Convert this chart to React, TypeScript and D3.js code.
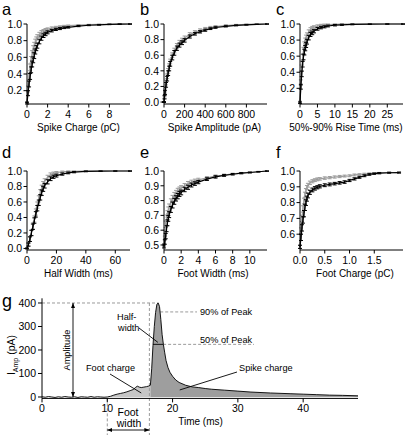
import React from "react";
import * as d3 from "d3";

// ---------- Panel a: Spike Charge (pC)
const aX = [0, 0.1, 0.2, 0.3, 0.4, 0.5, 0.6, 0.7, 0.8, 0.9, 1.0, 1.2, 1.4, 1.6, 1.8, 2.0, 2.4, 2.8, 3.2, 3.6, 4.0, 5, 6, 7, 8, 9, 10];
const aBlack = [0.05, 0.17, 0.28, 0.37, 0.45, 0.52, 0.57, 0.62, 0.67, 0.71, 0.74, 0.79, 0.83, 0.86, 0.88, 0.9, 0.92, 0.935, 0.945, 0.955, 0.96, 0.975, 0.985, 0.99, 0.995, 0.998, 1.0];
const aGray = [0.06, 0.22, 0.37, 0.48, 0.57, 0.64, 0.7, 0.74, 0.78, 0.81, 0.84, 0.87, 0.895, 0.91, 0.925, 0.935, 0.95, 0.96, 0.968, 0.975, 0.98, 0.987, 0.992, 0.995, 0.997, 0.999, 1.0];
const aBlackErr = [0.01, 0.03, 0.035, 0.035, 0.035, 0.035, 0.035, 0.035, 0.03, 0.03, 0.03, 0.028, 0.025, 0.022, 0.02, 0.018, 0.015, 0.013, 0.012, 0.01, 0.009, 0.007, 0.005, 0.004, 0.003, 0.002, 0.001];
const aGrayErr = [0.01, 0.035, 0.04, 0.04, 0.04, 0.04, 0.04, 0.04, 0.038, 0.035, 0.032, 0.03, 0.026, 0.023, 0.02, 0.018, 0.015, 0.012, 0.01, 0.009, 0.008, 0.006, 0.004, 0.003, 0.002, 0.001, 0.001];
const aXTicks = [0, 2, 4, 6, 8];
const aYTicks = [0.2, 0.4, 0.6, 0.8, 1.0];

// ---------- Panel b: Spike Amplitude (pA)
const bX = [0, 5, 10, 20, 30, 40, 50, 60, 80, 100, 125, 150, 175, 200, 250, 300, 350, 400, 450, 500, 600, 700, 800, 900, 1000];
const bBlack = [0.0, 0.06, 0.12, 0.22, 0.3, 0.37, 0.43, 0.49, 0.57, 0.63, 0.69, 0.73, 0.76, 0.79, 0.84, 0.875, 0.9, 0.92, 0.94, 0.955, 0.97, 0.982, 0.99, 0.996, 1.0];
const bGray = [0.0, 0.07, 0.14, 0.25, 0.33, 0.4, 0.46, 0.52, 0.6, 0.66, 0.72, 0.76, 0.79, 0.82, 0.865, 0.895, 0.92, 0.94, 0.955, 0.967, 0.98, 0.988, 0.994, 0.998, 1.0];
const bBlackErr = [0.005, 0.02, 0.025, 0.03, 0.03, 0.03, 0.03, 0.03, 0.03, 0.03, 0.028, 0.026, 0.024, 0.022, 0.02, 0.017, 0.015, 0.013, 0.011, 0.01, 0.008, 0.006, 0.004, 0.002, 0.001];
const bGrayErr = [0.005, 0.02, 0.025, 0.03, 0.03, 0.03, 0.03, 0.03, 0.03, 0.03, 0.03, 0.03, 0.028, 0.026, 0.024, 0.02, 0.018, 0.016, 0.014, 0.012, 0.01, 0.007, 0.005, 0.003, 0.001];
const bXTicks = [0, 200, 400, 600, 800];
const bYTicks = [0.0, 0.2, 0.4, 0.6, 0.8, 1.0];

// ---------- Panel c: 50%-90% Rise Time (ms)
const cX = [0, 0.25, 0.5, 0.75, 1, 1.25, 1.5, 1.75, 2, 2.5, 3, 3.5, 4, 5, 6, 7, 8, 10, 12, 15, 20, 25, 29.5];
const cBlack = [0.02, 0.22, 0.38, 0.5, 0.59, 0.65, 0.7, 0.74, 0.78, 0.83, 0.87, 0.89, 0.91, 0.94, 0.955, 0.965, 0.975, 0.985, 0.99, 0.995, 0.998, 1.0, 1.0];
const cGray = [0.03, 0.27, 0.45, 0.58, 0.67, 0.74, 0.79, 0.83, 0.86, 0.9, 0.93, 0.95, 0.96, 0.975, 0.985, 0.99, 0.993, 0.996, 0.998, 0.999, 1.0, 1.0, 1.0];
const cBlackErr = [0.01, 0.03, 0.035, 0.035, 0.035, 0.035, 0.033, 0.032, 0.03, 0.028, 0.025, 0.023, 0.02, 0.017, 0.015, 0.013, 0.011, 0.009, 0.007, 0.005, 0.003, 0.001, 0.001];
const cGrayErr = [0.01, 0.035, 0.04, 0.04, 0.04, 0.038, 0.035, 0.032, 0.03, 0.027, 0.024, 0.02, 0.018, 0.014, 0.011, 0.009, 0.007, 0.005, 0.004, 0.003, 0.002, 0.001, 0.001];
const cXTicks = [0, 5, 10, 15, 20, 25];
const cYTicks = [0.2, 0.4, 0.6, 0.8, 1.0];

// ---------- Panel d: Half Width (ms)
const dX = [0, 1, 2, 3, 4, 5, 6, 7, 8, 9, 10, 11, 12, 14, 16, 18, 20, 24, 28, 32, 40, 50, 60, 70];
const dBlack = [0.0, 0.05, 0.12, 0.2, 0.28, 0.36, 0.44, 0.52, 0.59, 0.66, 0.72, 0.77, 0.81, 0.86, 0.9, 0.925, 0.94, 0.96, 0.975, 0.985, 0.995, 0.998, 1.0, 1.0];
const dGray = [0.0, 0.05, 0.12, 0.2, 0.29, 0.38, 0.47, 0.56, 0.64, 0.72, 0.78, 0.83, 0.87, 0.92, 0.955, 0.97, 0.98, 0.99, 0.995, 0.997, 0.999, 1.0, 1.0, 1.0];
const dBlackErr = [0.005, 0.02, 0.03, 0.035, 0.035, 0.035, 0.035, 0.035, 0.035, 0.035, 0.035, 0.033, 0.03, 0.027, 0.024, 0.02, 0.018, 0.014, 0.011, 0.008, 0.005, 0.003, 0.001, 0.001];
const dGrayErr = [0.005, 0.02, 0.03, 0.035, 0.04, 0.04, 0.04, 0.04, 0.04, 0.04, 0.037, 0.034, 0.03, 0.025, 0.02, 0.016, 0.013, 0.009, 0.006, 0.004, 0.002, 0.001, 0.001, 0.001];
const dXTicks = [0, 20, 40, 60];
const dYTicks = [0.0, 0.2, 0.4, 0.6, 0.8, 1.0];

// ---------- Panel e: Foot Width (ms)
const eX = [0, 0.1, 0.2, 0.3, 0.4, 0.5, 0.6, 0.8, 1.0, 1.2, 1.4, 1.6, 1.8, 2.0, 2.4, 2.8, 3.2, 3.6, 4.0, 5, 6, 7, 8, 9, 10, 11, 12];
const eBlack = [0.49, 0.52, 0.56, 0.61, 0.65, 0.68, 0.705, 0.74, 0.77, 0.795, 0.815, 0.83, 0.845, 0.855, 0.875, 0.89, 0.905, 0.915, 0.925, 0.945, 0.96, 0.97, 0.978, 0.985, 0.99, 0.995, 1.0];
const eGray = [0.5, 0.58, 0.64, 0.68, 0.71, 0.735, 0.755, 0.79, 0.815, 0.835, 0.85, 0.865, 0.875, 0.885, 0.9, 0.915, 0.925, 0.933, 0.94, 0.953, 0.965, 0.973, 0.98, 0.986, 0.99, 0.995, 1.0];
const eBlackErr = [0.01, 0.015, 0.018, 0.02, 0.02, 0.02, 0.02, 0.02, 0.02, 0.02, 0.018, 0.018, 0.017, 0.016, 0.015, 0.014, 0.013, 0.012, 0.011, 0.009, 0.008, 0.006, 0.005, 0.004, 0.003, 0.002, 0.001];
const eGrayErr = [0.01, 0.02, 0.022, 0.022, 0.022, 0.022, 0.022, 0.022, 0.02, 0.02, 0.019, 0.018, 0.017, 0.016, 0.015, 0.014, 0.013, 0.012, 0.011, 0.009, 0.008, 0.006, 0.005, 0.004, 0.003, 0.002, 0.001];
const eXTicks = [0, 2, 4, 6, 8, 10];
const eYTicks = [0.5, 0.6, 0.7, 0.8, 0.9, 1.0];

// ---------- Panel f: Foot Charge (pC)
const fX = [0, 0.02, 0.04, 0.06, 0.08, 0.1, 0.12, 0.14, 0.16, 0.2, 0.25, 0.3, 0.35, 0.4, 0.5, 0.6, 0.7, 0.8, 0.9, 1.0, 1.1, 1.2, 1.3, 1.4, 1.5, 1.6, 1.8, 2.0];
const fBlack = [0.52, 0.58, 0.64, 0.69, 0.73, 0.77, 0.8, 0.825, 0.845, 0.865, 0.88, 0.89, 0.897, 0.903, 0.91, 0.915, 0.92, 0.925, 0.93, 0.94, 0.95, 0.96, 0.97, 0.978, 0.983, 0.986, 0.989, 0.99];
const fGray = [0.52, 0.62, 0.7, 0.76, 0.81, 0.85, 0.875, 0.895, 0.91, 0.925, 0.935, 0.942, 0.947, 0.95, 0.955, 0.958, 0.962, 0.965, 0.968, 0.97, 0.975, 0.978, 0.981, 0.984, 0.986, 0.988, 0.99, 0.99];
const fBlackErr = [0.01, 0.02, 0.02, 0.02, 0.02, 0.02, 0.018, 0.016, 0.015, 0.013, 0.012, 0.011, 0.01, 0.01, 0.009, 0.009, 0.008, 0.008, 0.008, 0.007, 0.007, 0.006, 0.006, 0.005, 0.004, 0.004, 0.003, 0.003];
const fGrayErr = [0.01, 0.02, 0.02, 0.02, 0.018, 0.016, 0.014, 0.013, 0.012, 0.011, 0.01, 0.009, 0.009, 0.008, 0.008, 0.007, 0.007, 0.007, 0.006, 0.006, 0.006, 0.005, 0.005, 0.004, 0.004, 0.003, 0.003, 0.003];
const fXTicks = [0, 0.5, 1.0, 1.5];
const fYTicks = [0.6, 0.7, 0.8, 0.9, 1.0];

// ---------- Panel g: example amperometric spike
const traceT = [0, 0.5, 1, 1.5, 2, 2.5, 3, 3.5, 4, 4.5, 5, 5.5, 6, 6.5, 7, 7.5, 8, 8.5, 9, 9.5, 10, 10.5, 11, 11.5, 12, 12.5, 13, 13.5, 14, 14.3, 14.6, 14.9, 15.2, 15.6, 16, 16.3, 16.6, 16.8, 17.0, 17.2, 17.4, 17.6, 17.8, 18.0, 18.2, 18.4, 18.6, 18.8, 19.0, 19.3, 19.6, 20.0, 20.5, 21, 22, 23, 24, 25, 26, 28, 30, 32, 35, 38, 40, 42, 44, 46, 48.4];
const traceI = [1, -1, 2, 0, -2, 1, -1, 2, 0, -1, 1, -2, 1, 0, -1, 2, -1, 1, 0, -1, 0, 3, 8, 12, 15, 18, 22, 27, 32, 40, 46, 42, 40, 42, 44, 46, 50, 120, 220, 300, 360, 395, 400, 385, 330, 265, 222, 188, 155, 125, 105, 88, 72, 62, 50, 43, 40, 36, 33, 29, 25, 21, 17, 14, 12, 10, 8, 7, 5];
const gXTicks = [0, 10, 20, 30, 40];
const gYTicks = [0, 100, 200, 300, 400];
const footStart = 10;
const footEnd = 16.6;
const peakValue = 400;
const peakTime = 17.8;
const peakLevels = [362, 224];
const peakLabels = ["90% of Peak", "50% of Peak"];
const halfWidthSpan = [17.0, 18.55];
const amplitudeTime = 4.75;

const FONT = "Liberation Sans, Arial, Helvetica, sans-serif";

type PanelProps = {
  letter: string;
  letterX: number;
  letterY: number;
  left: number;
  right: number;
  top: number;
  bottom: number;
  xDomain: [number, number];
  yDomain: [number, number];
  xTicks: number[];
  yTicks: number[];
  xFmt: (v: number) => string;
  title: string;
  titleX: number;
  xs: number[];
  black: number[];
  gray: number[];
  blackErr: number[];
  grayErr: number[];
};

function ErrSeries({ xs, ys, errs, x, y, color }: any) {
  const line = d3
    .line<number>()
    .x((_, i) => x(xs[i]))
    .y((d) => y(d));
  const bars = xs
    .map((xv: number, i: number) => {
      const px = x(xv);
      const y1 = y(Math.min(ys[i] + errs[i], 1.0));
      const y2 = y(ys[i] - errs[i]);
      return `M${px - 2},${y1}H${px + 2}M${px},${y1}V${y2}M${px - 2},${y2}H${px + 2}`;
    })
    .join("");
  return (
    <g>
      <path d={bars} stroke={color} strokeWidth={1} fill="none" />
      <path d={line(ys) || ""} stroke={color} strokeWidth={1.2} fill="none" />
    </g>
  );
}

function CdfPanel(p: PanelProps) {
  const x = d3.scaleLinear().domain(p.xDomain).range([p.left, p.right]);
  const y = d3.scaleLinear().domain(p.yDomain).range([p.bottom, p.top]);
  const yFmt = d3.format(".1f");
  return (
    <g fontFamily={FONT}>
      <text x={p.letterX} y={p.letterY} fontSize={16.5}>
        {p.letter}
      </text>
      <ErrSeries xs={p.xs} ys={p.gray} errs={p.grayErr} x={x} y={y} color="#9c9c9c" />
      <ErrSeries xs={p.xs} ys={p.black} errs={p.blackErr} x={x} y={y} color="#000" />
      <line x1={p.left} x2={p.left} y1={p.top} y2={p.bottom} stroke="#000" strokeWidth={1} />
      <line x1={p.left} x2={p.right} y1={p.bottom} y2={p.bottom} stroke="#000" strokeWidth={1} />
      {p.yTicks.map((t) => (
        <g key={"y" + t}>
          <line x1={p.left - 3.5} x2={p.left} y1={y(t)} y2={y(t)} stroke="#000" />
          <text x={p.left - 5} y={y(t)} dy="0.36em" textAnchor="end" fontSize={10.5}>
            {yFmt(t)}
          </text>
        </g>
      ))}
      {p.xTicks.map((t) => (
        <g key={"x" + t}>
          <line x1={x(t)} x2={x(t)} y1={p.bottom} y2={p.bottom + 3.5} stroke="#000" />
          <text x={x(t)} y={p.bottom + 14} textAnchor="middle" fontSize={10.5}>
            {p.xFmt(t)}
          </text>
        </g>
      ))}
      <text x={p.titleX} y={p.bottom + 27} textAnchor="middle" fontSize={10}>
        {p.title}
      </text>
    </g>
  );
}

function TracePanel() {
  const left = 42;
  const right = 358;
  const top = 298.3;
  const bottom = 398.4;
  const x = d3.scaleLinear().domain([0, 48.4]).range([left, right]);
  const y = d3.scaleLinear().domain([-6, 420]).range([bottom, top]);
  const pts = traceT.map((t, i) => [t, traceI[i]] as [number, number]);
  const footPts = pts.filter((d) => d[0] >= footStart && d[0] <= footEnd);
  const spikePts = pts.filter((d) => d[0] >= footEnd);
  const area = d3
    .area<[number, number]>()
    .x((d) => x(d[0]))
    .y0(y(0))
    .y1((d) => y(Math.max(d[1], 0)));
  const line = d3
    .line<[number, number]>()
    .x((d) => x(d[0]))
    .y((d) => y(d[1]));
  const dash = "3,2";
  const dashColor = "#9a9a9a";
  const ann = 9.2;
  return (
    <g fontFamily={FONT}>
      <defs>
        <marker id="ah" viewBox="0 0 10 10" refX="10" refY="5" markerWidth="5" markerHeight="5" orient="auto-start-reverse" markerUnits="userSpaceOnUse">
          <path d="M0,1 L10,5 L0,9 Z" fill="#000" />
        </marker>
      </defs>
      <text x={2} y={307} fontSize={18}>
        g
      </text>
      <path d={area(footPts) || ""} fill="#c6c6c6" stroke="none" />
      <path d={area(spikePts) || ""} fill="#9e9e9e" stroke="none" />
      <line x1={left} x2={x(peakTime)} y1={y(peakValue)} y2={y(peakValue)} stroke={dashColor} strokeDasharray={dash} />
      <line x1={x(peakTime) + 2} x2={197} y1={y(peakLevels[0])} y2={y(peakLevels[0])} stroke={dashColor} strokeDasharray={dash} />
      <line x1={x(halfWidthSpan[1])} x2={254} y1={y(peakLevels[1])} y2={y(peakLevels[1])} stroke={dashColor} strokeDasharray={dash} />
      <line x1={x(footStart)} x2={x(footStart)} y1={bottom} y2={435} stroke={dashColor} strokeDasharray={dash} />
      <line x1={x(footEnd) - 1} x2={x(footEnd) - 1} y1={y(peakValue)} y2={435} stroke={dashColor} strokeDasharray={dash} />
      <path d={line(pts) || ""} stroke="#000" strokeWidth={0.9} fill="none" />
      <line x1={left} x2={left} y1={top} y2={bottom} stroke="#000" />
      <line x1={left} x2={right} y1={bottom} y2={bottom} stroke="#000" />
      {gYTicks.map((t) => (
        <g key={"gy" + t}>
          <line x1={left - 4} x2={left} y1={y(t)} y2={y(t)} stroke="#000" />
          <text x={left - 6} y={y(t)} dy="0.36em" textAnchor="end" fontSize={10.5}>
            {t}
          </text>
        </g>
      ))}
      {gXTicks.map((t) => (
        <g key={"gx" + t}>
          <line x1={x(t)} x2={x(t)} y1={bottom} y2={bottom + 4} stroke="#000" />
          <text x={x(t)} y={bottom + 14} textAnchor="middle" fontSize={10.5}>
            {t}
          </text>
        </g>
      ))}
      <text x={200.5} y={425} textAnchor="middle" fontSize={10}>
        Time (ms)
      </text>
      <text transform={`translate(15,355) rotate(-90)`} textAnchor="middle" fontSize={10.5}>
        I<tspan fontSize={7} dy={2.5}>Amp</tspan>
        <tspan dy={-2.5}> (pA)</tspan>
      </text>
      <line x1={x(amplitudeTime)} x2={x(amplitudeTime)} y1={y(peakValue)} y2={y(0)} stroke="#000" strokeWidth={0.9} markerStart="url(#ah)" markerEnd="url(#ah)" />
      <text transform={`translate(69.5,350) rotate(-90)`} textAnchor="middle" fontSize={ann}>
        Amplitude
      </text>
      <line x1={x(halfWidthSpan[0])} x2={x(halfWidthSpan[1])} y1={y(peakLevels[1])} y2={y(peakLevels[1])} stroke="#000" strokeWidth={0.9} />
      <line x1={139} y1={328} x2={x(17.75)} y2={y(peakLevels[1]) - 2} stroke="#000" strokeWidth={0.9} />
      <text x={117} y={320} fontSize={ann}>
        Half-
      </text>
      <text x={118} y={331} fontSize={ann}>
        width
      </text>
      {peakLabels.map((l, i) => (
        <text key={l} x={200} y={i === 0 ? 315 : 342.5} fontSize={ann}>
          {l}
        </text>
      ))}
      <text x={86} y={371} fontSize={ann}>
        Foot charge
      </text>
      <line x1={110} y1={374} x2={x(15.2)} y2={y(17)} stroke="#000" strokeWidth={0.9} />
      <text x={239} y={371} fontSize={ann}>
        Spike charge
      </text>
      <line x1={237} y1={372} x2={x(21.1)} y2={y(30)} stroke="#000" strokeWidth={0.9} />
      <text x={128} y={416} textAnchor="middle" fontSize={10.5}>
        Foot
      </text>
      <text x={129} y={426.5} textAnchor="middle" fontSize={10.5}>
        width
      </text>
      <line x1={x(footStart)} x2={x(footEnd) - 1} y1={430} y2={430} stroke="#000" strokeWidth={0.9} markerStart="url(#ah)" markerEnd="url(#ah)" />
    </g>
  );
}

const f1 = d3.format(".1f");
const f0 = (v: number) => String(v);

export default function App() {
  const r1 = { top: 24, bottom: 104 };
  const r2 = { top: 171, bottom: 250 };
  const c1 = { left: 27, right: 130 };
  const c2 = { left: 164, right: 267 };
  const c3 = { left: 300, right: 403 };
  return (
    <svg width={410} height={435} style={{ position: "absolute", left: 0, top: 0, background: "#fff" }}>
      <rect width={410} height={435} fill="#fff" />
      <CdfPanel letter="a" letterX={2} letterY={15} {...r1} {...c1} xDomain={[0, 10]} yDomain={[0.04, 1]} xTicks={aXTicks} yTicks={aYTicks} xFmt={f0} title="Spike Charge (pC)" titleX={78.5} xs={aX} black={aBlack} gray={aGray} blackErr={aBlackErr} grayErr={aGrayErr} />
      <CdfPanel letter="b" letterX={140} letterY={15} {...r1} {...c2} xDomain={[0, 1000]} yDomain={[-0.025, 1]} xTicks={bXTicks} yTicks={bYTicks} xFmt={f0} title="Spike Amplitude (pA)" titleX={214.5} xs={bX} black={bBlack} gray={bGray} blackErr={bBlackErr} grayErr={bGrayErr} />
      <CdfPanel letter="c" letterX={276} letterY={15} {...r1} {...c3} xDomain={[0, 29.5]} yDomain={[0.005, 1]} xTicks={cXTicks} yTicks={cYTicks} xFmt={f0} title="50%-90% Rise Time (ms)" titleX={346} xs={cX} black={cBlack} gray={cGray} blackErr={cBlackErr} grayErr={cGrayErr} />
      <CdfPanel letter="d" letterX={2} letterY={158} {...r2} {...c1} xDomain={[0, 70]} yDomain={[-0.02, 1]} xTicks={dXTicks} yTicks={dYTicks} xFmt={f0} title="Half Width (ms)" titleX={78.5} xs={dX} black={dBlack} gray={dGray} blackErr={dBlackErr} grayErr={dGrayErr} />
      <CdfPanel letter="e" letterX={140} letterY={158} {...r2} {...c2} xDomain={[0, 12]} yDomain={[0.466, 1]} xTicks={eXTicks} yTicks={eYTicks} xFmt={f0} title="Foot Width (ms)" titleX={213} xs={eX} black={eBlack} gray={eGray} blackErr={eBlackErr} grayErr={eGrayErr} />
      <CdfPanel letter="f" letterX={276} letterY={158} {...r2} {...c3} xDomain={[0, 2.08]} yDomain={[0.5, 1]} xTicks={fXTicks} yTicks={fYTicks} xFmt={f1} title="Foot Charge (pC)" titleX={355} xs={fX} black={fBlack} gray={fGray} blackErr={fBlackErr} grayErr={fGrayErr} />
      <TracePanel />
    </svg>
  );
}
